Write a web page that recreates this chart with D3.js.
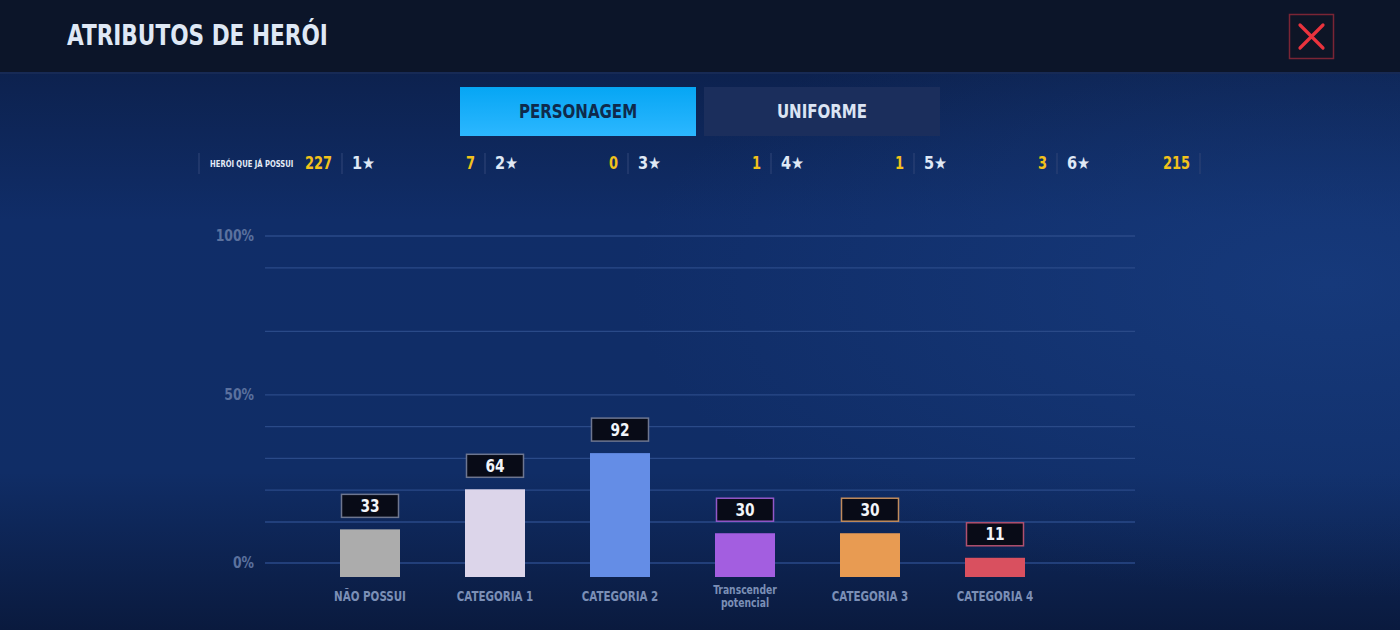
<!DOCTYPE html>
<html>
<head>
<meta charset="utf-8">
<script src="https://cdn.jsdelivr.net/npm/d3@7"></script>
<style>
  html, body { margin: 0; padding: 0; background: #0c1529; }
  svg { display: block; }
  text { font-family: "Liberation Sans Narrow", "DejaVu Sans Condensed", "Roboto Condensed", sans-serif; font-weight: bold; }
</style>
</head>
<body>
<svg id="chart" width="1400" height="630"></svg>
<script>
// data
const categories = ["NÃO POSSUI", "CATEGORIA 1", "CATEGORIA 2", "Transcender potencial", "CATEGORIA 3", "CATEGORIA 4"];
const counts = [33, 64, 92, 30, 30, 11];
const barColors = ["#acacac", "#dcd5ea", "#648de6", "#a35ee0", "#e89b52", "#d9505f"];
const boxBorders = ["#6d7690", "#6d7690", "#6d7690", "#9257c8", "#c08b5c", "#b0506e"];
const starLabels = ["1★", "2★", "3★", "4★", "5★", "6★"];
const starCounts = [7, 0, 1, 1, 3, 215];
const ownedLabel = "HERÓI QUE JÁ POSSUI";
const ownedCount = 227;
const tickValues = [0, 0.5, 1];
const gridValues = [0, 0.1, 0.2, 0.3, 0.4, 0.5, 0.7, 0.9, 1];
const tabs = ["PERSONAGEM", "UNIFORME"];

// the game font is narrow, so squeeze the condensed fallback a bit more
function narrow(sel, x, y, sx) {
    return sel.attr("transform", (d, i) => {
        const xx = typeof x === "function" ? x(d, i) : x;
        const yy = typeof y === "function" ? y(d, i) : y;
        return `translate(${xx},${yy}) scale(${sx},1)`;
    });
}

function drawChart() {
    const svg = d3.select("#chart");
    const width = +svg.attr("width");
    const height = +svg.attr("height");
    const defs = svg.append("defs");

    // background gradients
    const bg = defs.append("linearGradient").attr("id", "bg").attr("x1", 0).attr("y1", 0).attr("x2", 0).attr("y2", 1);
    bg.append("stop").attr("offset", "0%").attr("stop-color", "#0b1c42");
    bg.append("stop").attr("offset", "35%").attr("stop-color", "#102d68");
    bg.append("stop").attr("offset", "75%").attr("stop-color", "#102d66");
    bg.append("stop").attr("offset", "100%").attr("stop-color", "#0a1a3e");

    const glow = defs.append("radialGradient").attr("id", "glow").attr("cx", 0.95).attr("cy", 0.45).attr("r", 0.5);
    glow.append("stop").attr("offset", "0%").attr("stop-color", "#1a4187").attr("stop-opacity", 0.6);
    glow.append("stop").attr("offset", "100%").attr("stop-color", "#1a4187").attr("stop-opacity", 0);

    const tabGrad = defs.append("linearGradient").attr("id", "tab").attr("x1", 0).attr("y1", 0).attr("x2", 0).attr("y2", 1);
    tabGrad.append("stop").attr("offset", "0%").attr("stop-color", "#06a6f4");
    tabGrad.append("stop").attr("offset", "100%").attr("stop-color", "#2cb7ff");

    svg.append("rect").attr("width", width).attr("height", height).attr("fill", "url(#bg)");
    svg.append("rect").attr("width", width).attr("height", height).attr("fill", "url(#glow)");

    // header
    svg.append("rect").attr("width", width).attr("height", 72).attr("fill", "#0c1529");
    svg.append("rect").attr("y", 72).attr("width", width).attr("height", 2).attr("fill", "#172a55");
    narrow(svg.append("text"), 67, 45, 0.83)
        .attr("font-size", 29)
        .attr("fill", "#dfe8f5")
        .text("ATRIBUTOS DE HERÓI");

    // close button
    svg.append("rect")
        .attr("x", 1289.5).attr("y", 14.5).attr("width", 44).attr("height", 44)
        .attr("fill", "#0e1526").attr("stroke", "#7a2535").attr("stroke-width", 1.5);
    svg.append("path")
        .attr("d", "M1300,25L1323,48M1323,25L1300,48")
        .attr("stroke", "#ea333d").attr("stroke-width", 3.2).attr("stroke-linecap", "round");

    // tabs
    const tabX = d3.scaleBand().domain(tabs).range([460, 940]).paddingInner(0.0328);
    const tabG = svg.selectAll(".tab").data(tabs).enter().append("g").attr("class", "tab");
    tabG.append("rect")
        .attr("x", d => tabX(d)).attr("y", 87)
        .attr("width", tabX.bandwidth()).attr("height", 49)
        .attr("fill", (d, i) => i === 0 ? "url(#tab)" : "#1b2e5c");
    narrow(tabG.append("text"), d => tabX(d) + tabX.bandwidth() / 2, 118, 0.88)
        .attr("text-anchor", "middle")
        .attr("font-size", 19)
        .attr("fill", (d, i) => i === 0 ? "#0f2a4c" : "#dbe4f3")
        .text(d => d);

    // stats row
    const sepX = d3.scaleLinear().domain([0, 7]).range([199, 1200]);
    svg.selectAll(".sep").data(d3.range(8)).enter().append("line")
        .attr("x1", d => sepX(d)).attr("x2", d => sepX(d))
        .attr("y1", 153).attr("y2", 174)
        .attr("stroke", "#2c4275").attr("stroke-width", 1.2);
    narrow(svg.append("text"), sepX(0) + 11, 167, 0.8)
        .attr("font-size", 9.5).attr("fill", "#e4ebf7")
        .text(ownedLabel);
    narrow(svg.append("text"), sepX(1) - 10, 169, 0.85)
        .attr("text-anchor", "end")
        .attr("font-size", 17).attr("fill", "#f2c21b")
        .text(ownedCount);
    narrow(svg.selectAll(".star").data(starLabels).enter().append("text"), (d, i) => sepX(i + 1) + 10, 169, 0.95)
        .attr("font-size", 17).attr("fill", "#dfe8f5")
        .text(d => d);
    narrow(svg.selectAll(".starCount").data(starCounts).enter().append("text"), (d, i) => sepX(i + 2) - 10, 169, 0.85)
        .attr("text-anchor", "end")
        .attr("font-size", 17).attr("fill", "#f2c21b")
        .text(d => d);

    // scales
    const total = d3.sum(counts);
    const x = d3.scalePoint().domain(categories).range([370, 995]);
    const y = d3.scaleLinear().domain([0, 1]).range([572, 236]);
    const gridY = d3.scaleLinear().domain([0, 0.1, 1]).range([563, 522, 236]);
    const barBase = y(0) + 5;
    const barW = 60;

    // grid
    svg.selectAll(".grid").data(gridValues).enter().append("line")
        .attr("x1", 265).attr("x2", 1135)
        .attr("y1", d => gridY(d)).attr("y2", d => gridY(d))
        .attr("stroke", "#2a4a88").attr("stroke-width", 1.3);

    // y axis labels
    narrow(svg.selectAll(".ytick").data(tickValues).enter().append("text"), 254, d => gridY(d) + 5, 0.92)
        .attr("text-anchor", "end")
        .attr("font-size", 15).attr("fill", "#5b719e")
        .text(d => d3.format(".0%")(d));

    // bars
    svg.selectAll(".bar").data(counts).enter().append("rect")
        .attr("x", (d, i) => x(categories[i]) - barW / 2)
        .attr("y", d => y(d / total))
        .attr("width", barW)
        .attr("height", d => barBase - y(d / total))
        .attr("fill", (d, i) => barColors[i]);

    // value boxes
    const boxW = 57, boxH = 23;
    svg.selectAll(".box").data(counts).enter().append("rect")
        .attr("x", (d, i) => x(categories[i]) - boxW / 2)
        .attr("y", d => y(d / total) - 12 - boxH)
        .attr("width", boxW).attr("height", boxH)
        .attr("fill", "#080b17")
        .attr("stroke", (d, i) => boxBorders[i]).attr("stroke-width", 1.5);
    narrow(svg.selectAll(".val").data(counts).enter().append("text"),
            (d, i) => x(categories[i]), d => y(d / total) - 12 - boxH / 2 + 6, 0.9)
        .attr("text-anchor", "middle")
        .attr("font-size", 17).attr("fill", "#f2f5fa")
        .text(d => d);

    // category labels
    const isTwoLine = d => d.includes(" potencial");
    const catLabels = narrow(svg.selectAll(".cat").data(categories).enter().append("text"),
            d => x(d), d => isTwoLine(d) ? 594 : 601, 0.82)
        .attr("text-anchor", "middle")
        .attr("font-size", d => isTwoLine(d) ? 12.5 : 14)
        .attr("fill", "#7b8fb6");
    catLabels.each(function (d) {
        const parts = isTwoLine(d) ? d.split(" ") : [d];
        d3.select(this).selectAll("tspan").data(parts).enter().append("tspan")
            .attr("x", 0)
            .attr("dy", (p, j) => j === 0 ? 0 : 13)
            .text(p => p);
    });
}

drawChart();
</script>
</body>
</html>
